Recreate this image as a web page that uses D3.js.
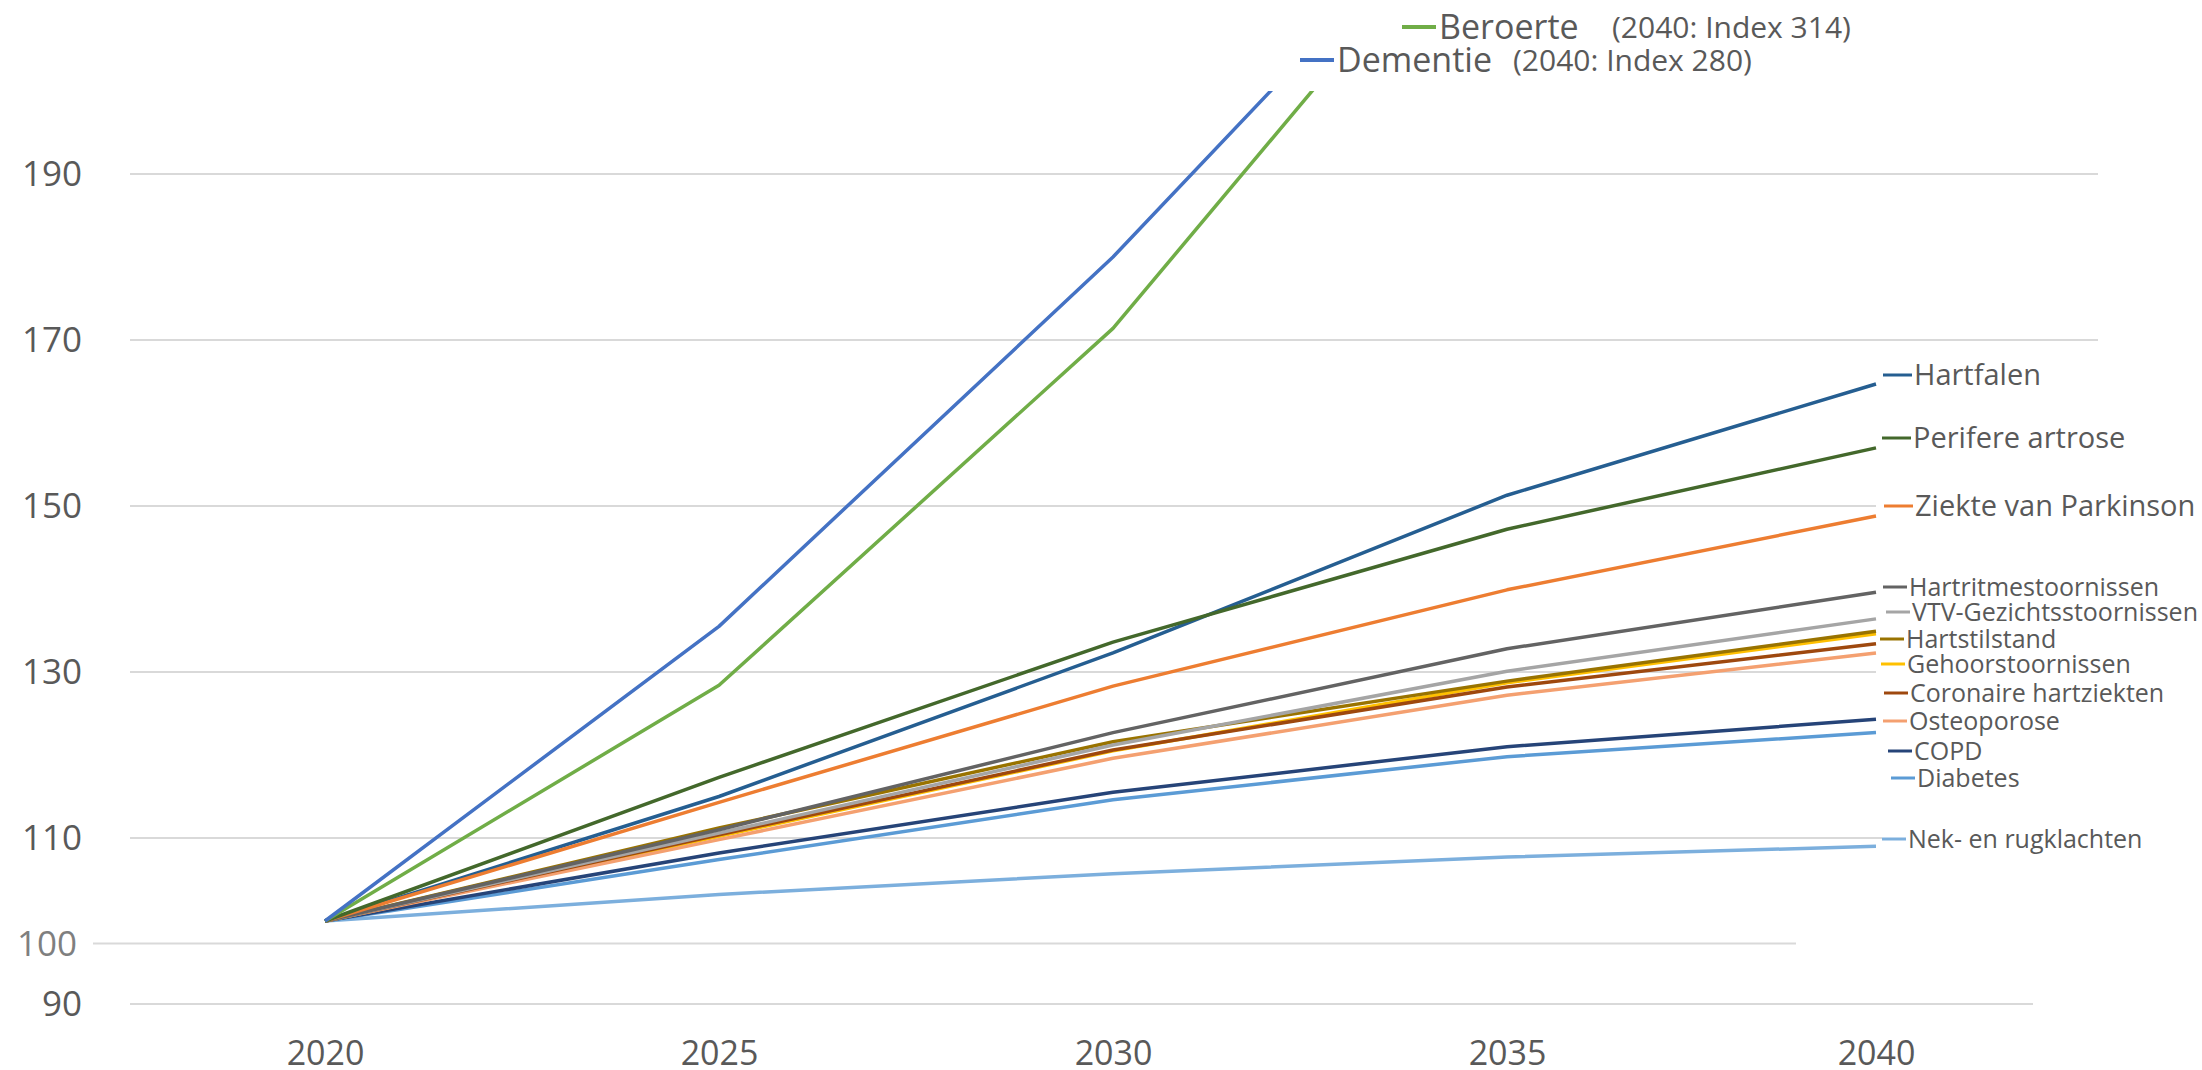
<!DOCTYPE html>
<html>
<head>
<meta charset="utf-8">
<script src="https://cdn.jsdelivr.net/npm/d3@7/dist/d3.min.js"></script>
<style>
    body { margin: 0; background: #fff; }
    svg { display: block; font-family: 'Open Sans', sans-serif; }
    .tick text { fill: #595959; }
</style>
</head>
<body>
<script>
(function () {

    'use strict'

    // ---- data (index, 2020 = 100) ----
    const years = [2020, 2025, 2030, 2035, 2040]
    const yTicks = [90, 110, 130, 150, 170, 190]

    const dementie = [100, 135.5, 180, 230, 280]
    const beroerte = [100, 128.4, 171.4, 228, 314]
    const hartfalen = [100, 115.0, 132.3, 151.3, 164.7]
    const perifereArtrose = [100, 117.3, 133.6, 147.2, 157.0]
    const parkinson = [100, 114.3, 128.3, 139.9, 148.8]
    const hartritme = [100, 111.0, 122.7, 132.8, 139.6]
    const vtvGezicht = [100, 110.6, 121.2, 130.1, 136.4]
    const hartstilstand = [100, 111.2, 121.6, 128.9, 134.9]
    const gehoor = [100, 110.2, 120.5, 128.7, 134.6]
    const coronaire = [100, 110.4, 120.6, 128.2, 133.4]
    const osteoporose = [100, 109.8, 119.6, 127.2, 132.3]
    const copd = [100, 108.2, 115.5, 121.0, 124.3]
    const diabetes = [100, 107.4, 114.6, 119.8, 122.7]
    const nekRug = [100, 103.2, 105.7, 107.7, 109.0]

    // drawing order: bottom first
    const series = [
        { name: 'Nek- en rugklachten', values: nekRug, color: '#7cafdd' },
        { name: 'Diabetes', values: diabetes, color: '#5b9bd5' },
        { name: 'COPD', values: copd, color: '#264478' },
        { name: 'Gehoorstoornissen', values: gehoor, color: '#ffc000' },
        { name: 'Osteoporose', values: osteoporose, color: '#f4a070' },
        { name: 'Coronaire hartziekten', values: coronaire, color: '#9e480e' },
        { name: 'Hartstilstand', values: hartstilstand, color: '#997300' },
        { name: 'VTV-Gezichtsstoornissen', values: vtvGezicht, color: '#a5a5a5' },
        { name: 'Hartritmestoornissen', values: hartritme, color: '#636363' },
        { name: 'Hartfalen', values: hartfalen, color: '#255e91' },
        { name: 'Ziekte van Parkinson', values: parkinson, color: '#ed7d31' },
        { name: 'Perifere artrose', values: perifereArtrose, color: '#43682b' },
        { name: 'Beroerte', values: beroerte, color: '#70ad47' },
        { name: 'Dementie', values: dementie, color: '#4472c4' }
    ]

    // label placement at the right edge (x of dash start, y centre, font size)
    const rightLabels = {
        'Hartfalen': [1883, 375, 29],
        'Perifere artrose': [1882, 438, 29],
        'Ziekte van Parkinson': [1884, 506, 29],
        'Hartritmestoornissen': [1883, 587, 25],
        'VTV-Gezichtsstoornissen': [1886, 612, 25],
        'Hartstilstand': [1880, 639, 25],
        'Gehoorstoornissen': [1881, 664, 25],
        'Coronaire hartziekten': [1884, 693, 25],
        'Osteoporose': [1883, 721, 25],
        'COPD': [1888, 751, 25],
        'Diabetes': [1891, 778, 25],
        'Nek- en rugklachten': [1882, 839, 25]
    }

    const width = 2202
        , height = 1070

    const svg = d3.select('body')
        .append('svg')
        .attr('width', width)
        .attr('height', height)

    const x = d3.scaleLinear()
        .domain([2020, 2035, 2040])
        .range([325, 1507, 1876])

    const y = d3.scaleLinear()
        .domain([90, 200])
        .range([1004, 91])

    // gridlines (the source picture has uneven right ends)
    const gridEnds = { 90: 2033, 110: 1882, 130: 1876, 150: 1876, 170: 2098, 190: 2098 }
    svg.append('g')
        .selectAll('line')
        .data(yTicks)
        .enter()
        .append('line')
        .attr('x1', 130)
        .attr('x2', d => gridEnds[d])
        .attr('y1', d => y(d))
        .attr('y2', d => y(d))
        .attr('stroke', '#d9d9d9')
        .attr('stroke-width', 2)

    // extra "100" line added by hand in the original
    const fakeHundred = 97.3
    svg.append('line')
        .attr('x1', 93)
        .attr('x2', 1796)
        .attr('y1', y(fakeHundred))
        .attr('y2', y(fakeHundred))
        .attr('stroke', '#d9d9d9')
        .attr('stroke-width', 2)
    svg.append('text')
        .attr('x', 77)
        .attr('y', y(fakeHundred))
        .attr('dy', '0.35em')
        .attr('text-anchor', 'end')
        .attr('font-size', 35)
        .attr('fill', '#7f7f7f')
        .text('100')

    // y axis
    svg.append('g')
        .attr('transform', 'translate(82,0)')
        .call(d3.axisLeft(y).tickValues(yTicks).tickSize(0).tickPadding(0))
        .call(g => g.select('.domain').remove())
        .selectAll('text')
        .attr('font-size', 35)
        .attr('font-family', "'Open Sans', sans-serif")

    // x axis
    svg.append('g')
        .attr('transform', 'translate(0,1053)')
        .call(d3.axisBottom(x).tickValues(years).tickFormat(d3.format('d')).tickSize(0))
        .call(g => g.select('.domain').remove())
        .selectAll('text')
        .attr('y', 0)
        .attr('dy', '0.35em')
        .attr('font-size', 34)
        .attr('font-family', "'Open Sans', sans-serif")

    // clip lines to plot area
    svg.append('clipPath')
        .attr('id', 'plot')
        .append('rect')
        .attr('x', 0)
        .attr('y', y(200))
        .attr('width', width)
        .attr('height', y(90) - y(200))

    const line = d3.line()
        .x((d, i) => x(years[i]))
        .y(d => y(d))

    svg.append('g')
        .attr('clip-path', 'url(#plot)')
        .selectAll('path')
        .data(series)
        .enter()
        .append('path')
        .attr('d', d => line(d.values))
        .attr('fill', 'none')
        .attr('stroke', d => d.color)
        .attr('stroke-width', 3.5)
        .attr('stroke-linejoin', 'round')

    // labels at the right end
    const labelled = series.filter(s => rightLabels[s.name])
    const lab = svg.append('g')
        .selectAll('g')
        .data(labelled)
        .enter()
        .append('g')
        .attr('transform', d => 'translate(' + rightLabels[d.name][0] + ',' + rightLabels[d.name][1] + ')')

    lab.append('line')
        .attr('x1', 0)
        .attr('x2', d => rightLabels[d.name][2] > 26 ? 29 : 24)
        .attr('stroke', d => d.color)
        .attr('stroke-width', 3)

    lab.append('text')
        .attr('x', d => rightLabels[d.name][2] > 26 ? 31 : 26)
        .attr('dy', '0.35em')
        .attr('font-size', d => rightLabels[d.name][2])
        .attr('fill', '#595959')
        .text(d => d.name)

    // top legend for the two series that leave the chart
    const topLegend = [
        { s: series[12], x: 1402, y: 27, note: '(2040: Index ' + beroerte[4] + ')', noteX: 1612 },
        { s: series[13], x: 1300, y: 60, note: '(2040: Index ' + dementie[4] + ')', noteX: 1513 }
    ]
    const top = svg.append('g')
        .selectAll('g')
        .data(topLegend)
        .enter()
        .append('g')
        .attr('transform', d => 'translate(' + d.x + ',' + d.y + ')')

    top.append('line')
        .attr('x1', 0)
        .attr('x2', 34)
        .attr('stroke', d => d.s.color)
        .attr('stroke-width', 4)

    top.append('text')
        .attr('x', 37)
        .attr('dy', '0.35em')
        .attr('font-size', 34)
        .attr('fill', '#595959')
        .text(d => d.s.name)

    top.append('text')
        .attr('x', d => d.noteX - d.x)
        .attr('dy', '0.35em')
        .attr('font-size', 30)
        .attr('fill', '#595959')
        .text(d => d.note)
})()
</script>
</body>
</html>
